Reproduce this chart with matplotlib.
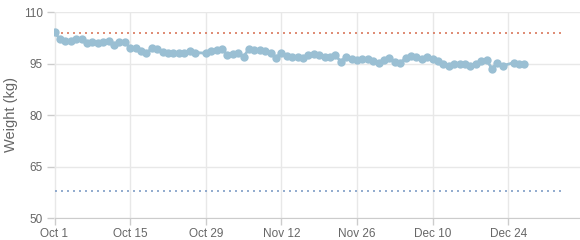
import matplotlib
matplotlib.use("Agg")
import matplotlib.pyplot as plt
import numpy as np
import pandas as pd

plt.rcParams['font.family'] = ['Liberation Sans', 'DejaVu Sans']

# daily weight readings from Oct 1, None = no reading that day
weights = [104.1, 102.1, 101.5, 101.5, 102.1, 102.1, 100.9, 101.3, 100.9, 101.3,
           101.5, 100.4, 101.2, 101.2, 99.6, 99.6, 98.6, 98.0, 99.4, 99.1,
           98.4, 98.2, 98.2, 98.2, 98.2, 98.6, 98.2, None, 98.0, 98.6,
           98.9, 99.2, 97.5, 97.7, 98.0, 97.0, 99.2, 98.9, 98.9, 98.6,
           98.0, 96.7, 98.0, 97.2, 97.0, 96.8, 96.5, 97.5, 97.8, 97.5,
           97.0, 97.0, 97.5, 95.5, 97.0, 96.2, 96.0, 96.2, 96.2, 95.8,
           95.2, 96.0, 96.5, 95.5, 95.2, 96.5, 97.2, 96.8, 96.2, 96.8,
           96.2, 95.8, 94.9, 94.3, 95.0, 95.0, 95.0, 94.4, 95.0, 95.6,
           96.0, 93.5, 95.2, 94.4, None, 95.2, 95.0, 95.0]

start_date = "2023-10-01"
target_end = "2024-01-03"
upper_limit = 104
lower_limit = 58

tick_dates = ["2023-10-01", "2023-10-15", "2023-10-29", "2023-11-12",
              "2023-11-26", "2023-12-10", "2023-12-24"]
tick_labels = ["Oct 1", "Oct 15", "Oct 29", "Nov 12", "Nov 26", "Dec 10", "Dec 24"]
y_ticks = [50, 65, 80, 95, 110]

dates = pd.date_range(start_date, periods=len(weights), freq="D")
df = pd.DataFrame({"date": dates, "weight": weights}).dropna()

fig = plt.figure(figsize=(5.8, 2.4), dpi=100)
ax = fig.add_axes([54.5 / 580, 22 / 240, 1 - 54.5 / 580, 206 / 240])

limit_x = pd.to_datetime([start_date, target_end])
ax.plot(limit_x, [upper_limit] * 2, color="#d9785c", lw=1.2,
        linestyle=(0, (1.2, 2.4)), zorder=2)
ax.plot(limit_x, [lower_limit] * 2, color="#7f9dc6", lw=1.2,
        linestyle=(0, (1.2, 2.4)), zorder=2)

ax.plot(df["date"], df["weight"], color="#9abfd3", lw=2, marker="o",
        markersize=6, markeredgewidth=0, zorder=3)

x0 = pd.Timestamp(start_date)
ax.set_xlim(x0, x0 + pd.Timedelta(days=97.3))
ax.set_ylim(50, 110)

ax.set_xticks(pd.to_datetime(tick_dates))
ax.set_xticklabels(tick_labels)
ax.set_yticks(y_ticks)

ax.grid(True, color="#e8e8e8", lw=1, zorder=0)
ax.set_axisbelow(True)
for s in ["top", "right", "left"]:
    ax.spines[s].set_visible(False)
ax.spines["bottom"].set_color("#cccccc")
ax.tick_params(colors="#cccccc", labelcolor="#666666", labelsize=8.5, length=5, width=1)
ax.tick_params(axis="x", pad=2)
ax.set_ylabel("Weight (kg)", color="#666666", fontsize=10.5, labelpad=4)

fig.savefig("out.png", dpi=100)
